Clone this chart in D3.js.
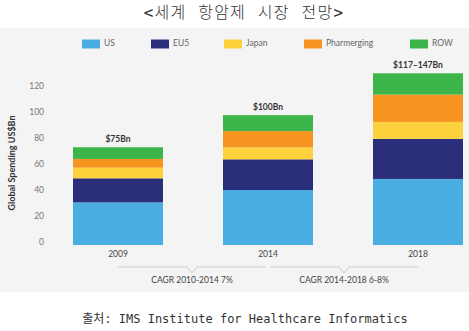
<!DOCTYPE html>
<html><head><meta charset="utf-8">
<script src="https://cdn.jsdelivr.net/npm/d3@7"></script>
<style>body{margin:0;background:#fff;}svg{display:block;}</style>
</head><body>
<svg id="c" width="469" height="331"></svg>
<script>
const years = ["2009", "2014", "2018"];
const seriesNames = ["US", "EU5", "Japan", "Pharmerging", "ROW"];
const US = [32.8, 42.3, 50.8];
const EU5 = [18.5, 23.6, 30.8];
const Japan = [8.2, 9.2, 13.1];
const Pharmerging = [6.7, 12.5, 21.0];
const ROW = [9.0, 12.3, 16.4];
const totalLabels = ["$75Bn", "$100Bn", "$117\u2013147Bn"];
const yTicks = [0, 20, 40, 60, 80, 100, 120];
const cagrLabels = ["CAGR 2010-2014 7%", "CAGR 2014-2018 6-8%"];
const cagrSpans = [["2009", "2014"], ["2014", "2018"]];
const colors = ["#4aaee2", "#2b2e7b", "#fdd13c", "#f7941f", "#3cb54b"];

const seriesValues = [US, EU5, Japan, Pharmerging, ROW];
const rows = years.map((y, i) => {
  const r = {year: y};
  seriesNames.forEach((s, k) => r[s] = seriesValues[k][i]);
  return r;
});

const svg = d3.select("#c");
const FONT = "Lato, 'Open Sans', sans-serif";

svg.append("rect").attr("x", 0).attr("y", 28).attr("width", 469).attr("height", 264).attr("fill", "#f5f4f4");

svg.append("text").attr("x", 244).attr("y", 13).attr("text-anchor", "middle")
  .attr("dominant-baseline", "middle").attr("font-family", "'DejaVu Sans Mono', 'Noto Sans CJK KR', monospace")
  .attr("font-size", 16).attr("font-weight", 300).attr("letter-spacing", 1.2).attr("word-spacing", 1)
  .attr("fill", "#333").text("<세계 항암제 시장 전망>");

const x = d3.scaleBand().domain(years).range([43, 493]).paddingInner(0.4).paddingOuter(0.2);
const y = d3.scaleLinear().domain([0, 120]).range([245, 89]);
const color = d3.scaleOrdinal().domain(seriesNames).range(colors);

// y tick labels
svg.append("g").selectAll("text").data(yTicks).join("text")
  .attr("x", 44).attr("y", d => y(d) - 2).attr("text-anchor", "end")
  .attr("dominant-baseline", "middle").attr("font-family", FONT).attr("font-size", 8.5)
  .attr("fill", "#777").text(d => d);

svg.append("text").attr("transform", "translate(13,163) rotate(-90)").attr("text-anchor", "middle")
  .attr("dominant-baseline", "middle").attr("font-family", FONT).attr("font-weight", "bold")
  .attr("font-size", 9).attr("fill", "#333").text("Global Spending US$Bn");

const stack = d3.stack().keys(seriesNames)(rows);
svg.append("g").selectAll("g").data(stack).join("g").attr("fill", d => color(d.key))
  .selectAll("rect").data(d => d).join("rect")
  .attr("x", d => x(d.data.year)).attr("width", x.bandwidth())
  .attr("y", d => y(d[1])).attr("height", d => y(d[0]) - y(d[1]));

const totals = rows.map(r => d3.sum(seriesNames, s => r[s]));
svg.append("g").selectAll("text").data(years).join("text")
  .attr("x", d => x(d) + x.bandwidth() / 2).attr("y", (d, i) => y(totals[i]) - 7)
  .attr("text-anchor", "middle").attr("dominant-baseline", "middle")
  .attr("font-family", FONT).attr("font-weight", "bold").attr("font-size", 8.5).attr("fill", "#333")
  .text((d, i) => totalLabels[i]);

svg.append("g").selectAll("text").data(years).join("text")
  .attr("x", d => x(d) + x.bandwidth() / 2).attr("y", 255)
  .attr("text-anchor", "middle").attr("dominant-baseline", "middle")
  .attr("font-family", FONT).attr("font-size", 8.5).attr("fill", "#444").text(d => d);

// legend
const legendX = [82, 151, 224, 304, 410];
const lg = svg.append("g").selectAll("g").data(seriesNames).join("g")
  .attr("transform", (d, i) => `translate(${legendX[i]},44)`);
lg.append("rect").attr("x", 0).attr("y", -4.5).attr("width", 18).attr("height", 9).attr("fill", d => color(d));
lg.append("text").attr("x", 22).attr("y", 0).attr("dominant-baseline", "middle")
  .attr("font-family", FONT).attr("font-size", 8.5).attr("fill", "#666").text(d => d);

// CAGR brackets
const cx = yr => x(yr) + x.bandwidth() / 2;
const br = svg.append("g");
cagrSpans.forEach((sp, i) => {
  const x0 = cx(sp[0]) + (i === 0 ? 0 : 2);
  const x1 = cx(sp[1]) - (i === 0 ? 2 : 0);
  const m = (x0 + x1) / 2;
  const ly = 267;
  br.append("path").attr("d", `M${x0},${ly}H${m - 5}L${m},${ly + 6}L${m + 5},${ly}H${x1}`)
    .attr("fill", "none").attr("stroke", "#cfcfcf").attr("stroke-width", 1);
  br.append("text").attr("x", m).attr("y", 281).attr("text-anchor", "middle")
    .attr("dominant-baseline", "middle").attr("font-family", FONT).attr("font-size", 8.5)
    .attr("fill", "#444").text(cagrLabels[i]);
});

svg.append("text").attr("x", 245).attr("y", 319).attr("text-anchor", "middle")
  .attr("dominant-baseline", "middle").attr("font-family", "'DejaVu Sans Mono', 'Noto Sans CJK KR', monospace")
  .attr("font-size", 12).attr("fill", "#333").text("출처: IMS Institute for Healthcare Informatics");
</script>
</body></html>
